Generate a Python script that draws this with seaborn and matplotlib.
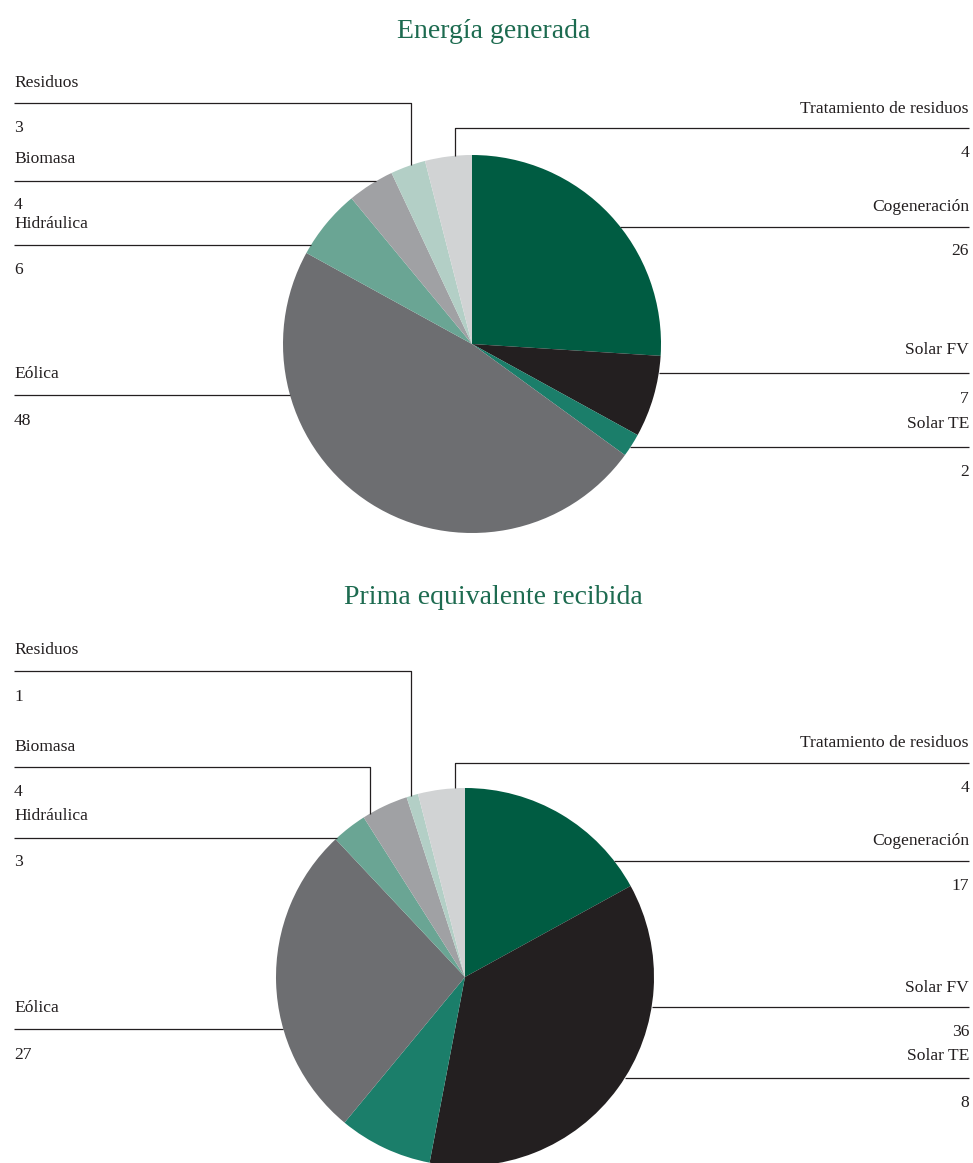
import numpy as np
import matplotlib
matplotlib.use("Agg")
import matplotlib.pyplot as plt
import seaborn as sns

# Categories in clockwise order starting at 12 o'clock
categorias = ["Cogeneración", "Solar FV", "Solar TE", "Eólica",
              "Hidráulica", "Biomasa", "Residuos", "Tratamiento de residuos"]
energia_generada = [26, 7, 2, 48, 6, 4, 3, 4]
prima_recibida = [17, 36, 8, 27, 3, 4, 1, 4]
titulos = ["Energía generada", "Prima equivalente recibida"]
colores = ["#005c42", "#231f20", "#1b7e6a", "#6d6e71",
           "#6aa594", "#a0a1a4", "#b3cfc6", "#d1d3d4"]

sns.set_theme(style="white")
plt.rcParams["font.family"] = ["Liberation Serif", "DejaVu Serif"]

W, H = 973, 1163
fig = plt.figure(figsize=(W / 100, H / 100), dpi=100)
ax = fig.add_axes([0, 0, 1, 1])
palette = sns.color_palette(colores)

TXT = 12.6
LINE_KW = dict(color="#231f20", lw=0.9, solid_capstyle="butt")
LEFT_X, RIGHT_X = 14, 969


def circle_x(cx, cy, r, y, side):
    dy = y - cy
    return cx + side * np.sqrt(max(r * r - dy * dy, 0.0))


def circle_y(cx, cy, r, x):
    dx = x - cx
    return cy - np.sqrt(max(r * r - dx * dx, 0.0))


def draw_pie(values, center, radius, title, title_y, layout):
    cx, cy = center
    # y axis runs downward, so counter-clockwise in data space is clockwise on screen
    ax.pie(values, colors=palette, startangle=-90, counterclock=True,
           center=center, radius=radius,
           wedgeprops=dict(linewidth=0, edgecolor="none"))
    ax.text((W / 2) + 7, title_y, title, ha="center", va="center",
            fontsize=20, color="#1d6b50")
    for name, val in zip(categorias, values):
        side, text_y, line_y, val_y, vert_x = layout[name]
        if side < 0:
            x_txt, ha = LEFT_X, "left"
        else:
            x_txt, ha = RIGHT_X, "right"
        ax.text(x_txt, text_y, name, ha=ha, va="center", fontsize=TXT,
                color="#231f20")
        ax.text(x_txt, val_y, f"{val}", ha=ha, va="center", fontsize=TXT,
                color="#231f20")
        if vert_x is None:
            x_end = circle_x(cx, cy, radius, line_y, side)
            ax.plot([x_txt, x_end], [line_y, line_y], **LINE_KW)
        else:
            y_end = circle_y(cx, cy, radius, vert_x)
            ax.plot([x_txt, vert_x, vert_x], [line_y, line_y, y_end], **LINE_KW)


# side, label y, leader y, value y, x of vertical drop (or None)
layout_top = {
    "Tratamiento de residuos": (1, 109, 128, 153, 455),
    "Cogeneración": (1, 207, 227, 251, None),
    "Solar FV": (1, 350, 373, 399, None),
    "Solar TE": (1, 424, 447, 472, None),
    "Eólica": (-1, 374, 395, 421, None),
    "Hidráulica": (-1, 224, 245, 270, None),
    "Biomasa": (-1, 159, 181, 205, None),
    "Residuos": (-1, 83, 103, 128, 411),
}
layout_bottom = {
    "Tratamiento de residuos": (1, 743, 763, 788, 455),
    "Cogeneración": (1, 841, 861, 886, None),
    "Solar FV": (1, 988, 1007, 1032, None),
    "Solar TE": (1, 1056, 1078, 1103, None),
    "Eólica": (-1, 1008, 1029, 1055, None),
    "Hidráulica": (-1, 816, 838, 862, None),
    "Biomasa": (-1, 747, 767, 792, 370),
    "Residuos": (-1, 650, 671, 697, 411),
}

draw_pie(energia_generada, (472, 344), 189, titulos[0], 31, layout_top)
draw_pie(prima_recibida, (465, 977), 189, titulos[1], 598, layout_bottom)

ax.set_xlim(0, W)
ax.set_ylim(H, 0)
ax.set_aspect("equal")
ax.axis("off")

fig.savefig("out.png", dpi=100, facecolor="white")
